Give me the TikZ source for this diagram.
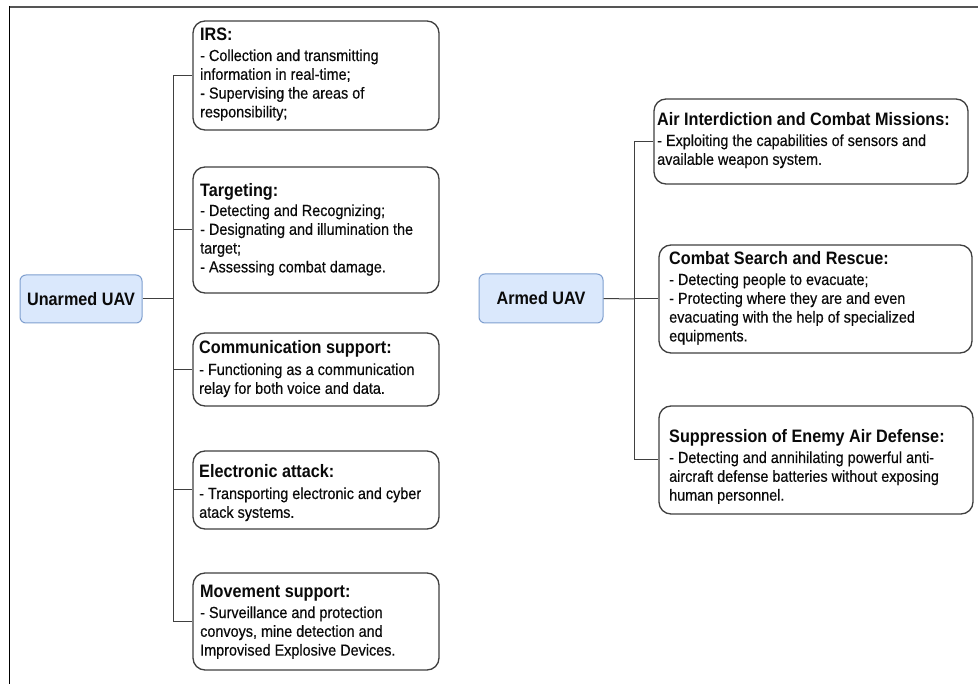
\documentclass[tikz,border=0pt]{standalone}
\usepackage{fontspec}
\setmainfont{Liberation Sans}[FakeStretch=0.9,FakeBold=0.4]
\newfontfamily\titlefont{Liberation Sans}[FakeStretch=0.9]
\definecolor{boxline}{HTML}{3F3F3F}
\definecolor{connline}{HTML}{404040}
\definecolor{uavfill}{HTML}{DAE8FC}
\definecolor{uavline}{HTML}{7F9FCF}
\definecolor{txt}{HTML}{0A0A0A}
\definecolor{frametop}{HTML}{555555}
\begin{document}
\begin{tikzpicture}[x=1pt,y=-1pt,
  box/.style={draw=boxline, line width=1.3pt, rounded corners=12pt, inner sep=0pt, fill=white},
  uav/.style={draw=uavline, fill=uavfill, line width=1pt, rounded corners=6pt, inner sep=0pt, font=\titlefont\bfseries\fontsize{18}{22}\selectfont, text=txt},
  ttl/.style={anchor=base west, inner sep=0pt, font=\titlefont\bfseries\fontsize{18}{22}\selectfont, text=txt},
  bdy/.style={anchor=base west, inner sep=0pt, font=\fontsize{16}{18.8}\selectfont, text=txt},
  conn/.style={draw=connline, line width=1pt}]
\useasboundingbox (0,0) rectangle (978,684);
\fill[white] (0,0) rectangle (978,684);
% frame
\draw[frametop, line width=2pt] (9,7) -- (978,7);
\draw[black, line width=1.5pt] (9.5,6) -- (9.5,684);

% central nodes
\node[uav, minimum width=122pt, minimum height=48pt] (unarmed) at (81,299) {Unarmed UAV};
\node[uav, minimum width=124pt, minimum height=49pt] (armed) at (541,298.5) {Armed UAV};

% left boxes
\node[box, minimum width=246pt, minimum height=109pt] (irs) at (316,75.5) {};
\node[box, minimum width=246pt, minimum height=126pt] (tgt) at (316,230) {};
\node[box, minimum width=246pt, minimum height=73pt] (com) at (316,369.5) {};
\node[box, minimum width=246pt, minimum height=78pt] (ele) at (316,490) {};
\node[box, minimum width=246pt, minimum height=97pt] (mov) at (316,621.5) {};
% right boxes
\node[box, minimum width=314pt, minimum height=85pt] (air) at (811,141.5) {};
\node[box, minimum width=313pt, minimum height=108pt] (csr) at (815.5,299) {};
\node[box, minimum width=314pt, minimum height=108pt] (sup) at (816,460) {};

% texts
\node[ttl] (irsT) at (200,41) {IRS:};
\node[bdy] (irsB) at (200,61) {\begin{tabular}[t]{@{}l@{}}- Collection and transmitting\\information in real-time;\\- Supervising the areas of\\responsibility;\end{tabular}};
\node[ttl] (tgtT) at (200,197) {Targeting:};
\node[bdy] (tgtB) at (200,216) {\begin{tabular}[t]{@{}l@{}}- Detecting and Recognizing;\\- Designating and illumination the\\target;\\- Assessing combat damage.\end{tabular}};
\node[ttl] (comT) at (199,354) {Communication support:};
\node[bdy] (comB) at (199,375) {\begin{tabular}[t]{@{}l@{}}- Functioning as a communication\\relay for both voice and data.\end{tabular}};
\node[ttl] (eleT) at (199,478) {Electronic attack:};
\node[bdy] (eleB) at (199,499) {\begin{tabular}[t]{@{}l@{}}- Transporting electronic and cyber\\atack systems.\end{tabular}};
\node[ttl] (movT) at (200,597) {Movement support:};
\node[bdy] (movB) at (200,618) {\begin{tabular}[t]{@{}l@{}}- Surveillance and protection\\convoys, mine detection and\\Improvised Explosive Devices.\end{tabular}};

\node[ttl] (airT) at (657,126) {Air Interdiction and Combat Missions:};
\node[bdy] (airB) at (657,146) {\begin{tabular}[t]{@{}l@{}}- Exploiting the capabilities of sensors and\\available weapon system.\end{tabular}};
\node[ttl] (csrT) at (669,265) {Combat Search and Rescue:};
\node[bdy] (csrB) at (669,285) {\begin{tabular}[t]{@{}l@{}}- Detecting people to evacuate;\\- Protecting where they are and even\\evacuating with the help of specialized\\equipments.\end{tabular}};
\node[ttl] (supT) at (669,443) {Suppression of Enemy Air Defense:};
\node[bdy] (supB) at (669,463) {\begin{tabular}[t]{@{}l@{}}- Detecting and annihilating powerful anti-\\aircraft defense batteries without exposing\\human personnel.\end{tabular}};

% connectors
\coordinate (jl) at (173,299);
\coordinate (jr) at (634,299);
\draw[conn] (unarmed.east) -- (jl);
\draw[conn] (jl) |- (irs.west);
\draw[conn] (jl) |- (tgt.west);
\draw[conn] (jl) |- (com.west);
\draw[conn] (jl) |- (ele.west);
\draw[conn] (jl) |- (mov.west);
\draw[conn] (armed.east) -- (jr);
\draw[conn] (jr) |- (air.west);
\draw[conn] (jr) |- (csr.west);
\draw[conn] (jr) |- (sup.west);
\end{tikzpicture}
\end{document}
